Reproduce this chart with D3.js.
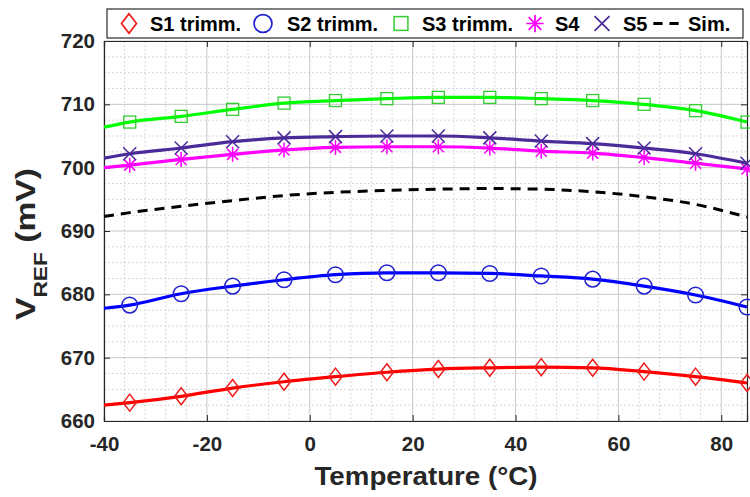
<!DOCTYPE html>
<html><head><meta charset="utf-8">
<script src="https://cdn.jsdelivr.net/npm/d3@7"></script>
<style>body{margin:0;background:#fff}svg{display:block;font-family:"Liberation Sans",Arial,sans-serif}</style>
</head><body><svg id="c" width="750" height="497"></svg>
<script>
// ---- data ----
const markerTemps = [-35,-25,-15,-5,5,15,25,35,45,55,65,75,85];
const lineTemps   = [-40,-35,-25,-15,-5,5,15,25,35,45,55,65,75,85];
const s1 = [662.9,663.9,665.2,666.2,667.0,667.7,668.2,668.4,668.5,668.4,667.8,667.0,666.0];
const s2 = [678.3,680.1,681.3,682.3,683.1,683.4,683.4,683.3,682.9,682.4,681.3,679.9,678.0];
const s3 = [707.2,708.1,709.2,710.2,710.6,710.9,711.1,711.1,710.9,710.6,710.0,709.0,707.2];
const s4 = [700.4,701.3,702.1,702.8,703.2,703.3,703.3,703.1,702.6,702.3,701.6,700.7,699.8];
const s5 = [702.2,703.1,704.1,704.7,704.9,705.0,705.0,704.7,704.2,703.8,703.1,702.2,700.7];
const startVals = {s1:662.5, s2:677.8, s3:706.4, s4:700.0, s5:701.5};
const sim = [692.3,692.9,693.9,694.8,695.6,696.1,696.4,696.6,696.7,696.6,696.2,695.4,694.2,692.2];
const xTicks = [-40,-20,0,20,40,60,80];
const yTicks = [660,670,680,690,700,710,720];
const legendLabels = ["S1 trimm.","S2 trimm.","S3 trimm.","S4","S5","Sim."];

// ---- setup ----
const svg = d3.select("#c");
const L=104,R=747,T=41,B=421;
const x = d3.scaleLinear().domain([-40,85]).range([L,R]);
const y = d3.scaleLinear().domain([660,720]).range([B,T]);

// minor grid
const xMinor = d3.range(-40,86,4).filter(v=>v%20!==0);
const yMinor = d3.range(660,720.1,2.5).filter(v=>v%10!==0);
const g = svg.append("g");
g.selectAll(".mx").data(xMinor).join("line").attr("x1",d=>x(d)).attr("x2",d=>x(d)).attr("y1",T).attr("y2",B)
  .attr("stroke","#d8d8d8").attr("stroke-width",1).attr("stroke-dasharray","2,2");
g.selectAll(".my").data(yMinor).join("line").attr("y1",d=>y(d)).attr("y2",d=>y(d)).attr("x1",L).attr("x2",R)
  .attr("stroke","#d8d8d8").attr("stroke-width",1).attr("stroke-dasharray","2,2");
// major grid
g.selectAll(".gx").data(xTicks).join("line").attr("x1",d=>x(d)).attr("x2",d=>x(d)).attr("y1",T).attr("y2",B)
  .attr("stroke","#c8c8c8").attr("stroke-width",1);
g.selectAll(".gy").data(yTicks).join("line").attr("y1",d=>y(d)).attr("y2",d=>y(d)).attr("x1",L).attr("x2",R)
  .attr("stroke","#c8c8c8").attr("stroke-width",1);

// axes
const fmt = d => String(d);
const xAxis = svg.append("g").attr("transform",`translate(0,${B})`)
  .call(d3.axisBottom(x).tickValues(xTicks).tickSize(-6).tickPadding(15).tickFormat(fmt));
const yAxis = svg.append("g").attr("transform",`translate(${L},0)`)
  .call(d3.axisLeft(y).tickValues(yTicks).tickSize(-6).tickPadding(9).tickFormat(fmt));
svg.append("g").attr("transform",`translate(${R},0)`)
  .call(d3.axisRight(y).tickValues(yTicks).tickSize(-6).tickFormat(""));
svg.append("g").attr("transform",`translate(0,${T})`)
  .call(d3.axisTop(x).tickValues(xTicks).tickSize(-6).tickFormat(""));
svg.selectAll(".domain").attr("stroke","#262626").attr("stroke-width",1.2);
svg.selectAll(".tick line").attr("stroke","#262626");
[xAxis,yAxis].forEach(a=>a.selectAll("text").attr("font-size",20.5).attr("font-weight","bold").attr("fill","#262626")
  .attr("font-family","'Liberation Sans',Arial,sans-serif"));
xAxis.selectAll("text").attr("dy","0.71em");

// lines
const line = d3.line().x(d=>x(d[0])).y(d=>y(d[1])).curve(d3.curveMonotoneX);
const series = [
  {key:"s1",vals:s1,color:"#ff0000",mcolor:"#ee1c1c",shape:"diamond"},
  {key:"s2",vals:s2,color:"#0000ff",mcolor:"#2020d0",shape:"circle"},
  {key:"s3",vals:s3,color:"#00ff00",mcolor:"#33cc33",shape:"square"},
  {key:"s4",vals:s4,color:"#ff00ff",mcolor:"#ff00ff",shape:"star"},
  {key:"s5",vals:s5,color:"#4b2a99",mcolor:"#4b2a99",shape:"x"}
];
svg.append("path").datum(lineTemps.map((t,i)=>[t,sim[i]])).attr("d",line)
  .attr("fill","none").attr("stroke","#000").attr("stroke-width",3).attr("stroke-dasharray","10,7");

function drawMarker(sel,shape,color){
  if(shape==="diamond") sel.append("path").attr("d","M0,-8.5L6.5,0L0,8.5L-6.5,0Z").attr("fill","none").attr("stroke",color).attr("stroke-width",1.5);
  if(shape==="circle") sel.append("circle").attr("r",7.8).attr("fill","none").attr("stroke",color).attr("stroke-width",1.5);
  if(shape==="square") sel.append("rect").attr("x",-6).attr("y",-6).attr("width",12).attr("height",12).attr("fill","none").attr("stroke",color).attr("stroke-width",1.3);
  if(shape==="star") sel.append("path").attr("d","M0,-7.5V7.5M-7.5,0H7.5M-5.5,-5.5L5.5,5.5M-5.5,5.5L5.5,-5.5").attr("stroke",color).attr("stroke-width",1.5);
  if(shape==="x") sel.append("path").attr("d","M-6.5,-6.5L6.5,6.5M-6.5,6.5L6.5,-6.5").attr("stroke",color).attr("stroke-width",1.5);
}
series.forEach(s=>{
  const pts = [[-40,startVals[s.key]]].concat(markerTemps.map((t,i)=>[t,s.vals[i]]));
  svg.append("path").datum(pts).attr("d",line).attr("fill","none").attr("stroke",s.color).attr("stroke-width",3.2);
  svg.append("g").selectAll("g").data(markerTemps.map((t,i)=>[t,s.vals[i]])).join("g")
    .attr("transform",d=>`translate(${x(d[0])},${y(d[1])})`).each(function(){drawMarker(d3.select(this),s.shape,s.mcolor);});
});

// axis labels
svg.append("text").attr("x",426).attr("y",485).attr("text-anchor","middle").attr("font-size",25).attr("font-weight","bold")
  .attr("fill","#262626").attr("textLength",223).attr("lengthAdjust","spacingAndGlyphs").text("Temperature (°C)");
const yl = svg.append("text").attr("transform",`translate(35,320) rotate(-90) scale(1.2,1)`).attr("text-anchor","start")
  .attr("font-weight","bold").attr("fill","#262626");
yl.append("tspan").attr("font-size",28).text("V");
yl.append("tspan").attr("font-size",19).attr("dy",12).text("REF");
yl.append("tspan").attr("font-size",28).attr("dy",-12).text(" (mV)");

// legend
const lg = svg.append("g");
lg.append("rect").attr("x",107).attr("y",9).attr("width",636).attr("height",29).attr("fill","#fff").attr("stroke","#000").attr("stroke-width",1);
const legendPos = [{mx:129,tx:150},{mx:263,tx:287},{mx:401,tx:422},{mx:535,tx:555},{mx:602,tx:623},{mx:666,tx:688}];
const legendShapes = ["diamond","circle","square","star","x","dash"];
const legendColors = ["#ee1c1c","#2020d0","#33cc33","#ff00ff","#4b2a99","#000"];
legendLabels.forEach((lab,i)=>{
  const p = legendPos[i];
  const mg = lg.append("g").attr("transform",`translate(${p.mx},23.5) scale(1.15)`);
  if(legendShapes[i]==="dash"){
    mg.append("line").attr("x1",-11).attr("x2",11).attr("stroke","#000").attr("stroke-width",2.6).attr("stroke-dasharray","8,6");
  } else drawMarker(mg,legendShapes[i],legendColors[i]);
  lg.append("text").attr("x",p.tx).attr("y",31).attr("font-size",20).attr("font-weight","bold").attr("fill","#000").text(lab);
});
</script></body></html>
